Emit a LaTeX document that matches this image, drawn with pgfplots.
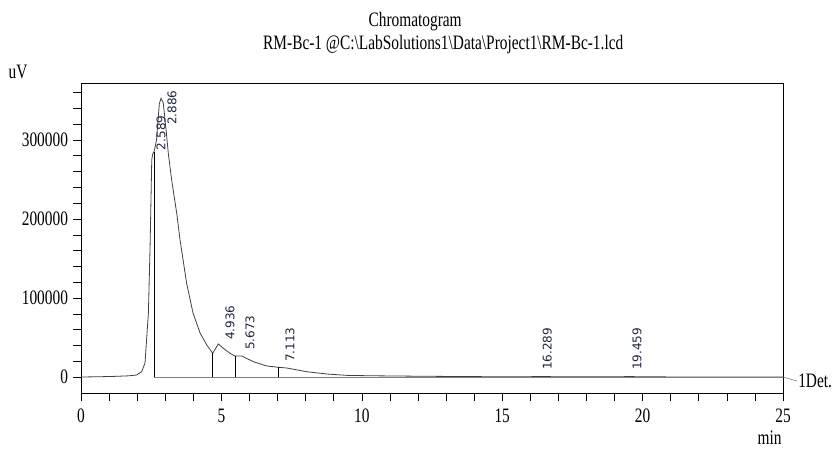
\documentclass[border=0pt]{standalone}
\usepackage{pgfplots}
\pgfplotsset{compat=1.18}
\usepackage{fontspec}
\setmainfont{Liberation Serif}[FakeStretch=0.75]
\newfontfamily\peakfont{DejaVu Sans}
\definecolor{peaklbl}{rgb}{0.12,0.14,0.25}
\definecolor{trace}{rgb}{0.25,0.25,0.25}

\begin{document}
\fontsize{20.5bp}{24bp}\selectfont
\begin{tikzpicture}
\begin{axis}[
	name=ax,
	scale only axis,
	width=702bp, height=310bp,
	xmin=0, xmax=25,
	ymin=-20250, ymax=372150,
	axis line style={line width=0.8bp},
	tick pos=left,
	tick align=outside,
	xtick={0,5,...,25},
	minor xtick={1,2,3,4,6,7,8,9,11,12,13,14,16,17,18,19,21,22,23,24},
	ytick={0,100000,200000,300000},
	minor ytick={20000,40000,60000,80000,120000,140000,160000,180000,220000,240000,260000,280000,320000,340000,360000},
	major tick length=8bp, minor tick length=8bp,
	tick style={black, line width=0.6bp},
	scaled y ticks=false,
	/pgf/number format/assume math mode=true,
	/pgf/number format/set thousands separator={},
	yticklabel style={/pgf/number format/fixed, xshift=2bp},
	xticklabel style={yshift=-1bp},
	clip=false,
]
% chromatogram trace
\addplot[trace, line width=0.8bp] coordinates {
(0,0) (0.6,300) (1.2,800) (1.7,1500) (1.98,2500) (2.16,6700) (2.28,17700)
(2.40,81000) (2.46,165000) (2.52,275000) (2.56,283000) (2.60,285000)
(2.69,300000) (2.79,346000) (2.85,352800) (2.93,347000) (3.03,312700)
(3.11,283000) (3.23,249000) (3.41,207000) (3.53,173000) (3.76,119000)
(3.99,81000) (4.24,55700) (4.48,40500) (4.69,30000) (4.89,41800)
(5.07,36300) (5.31,30000) (5.48,26600) (5.72,26600) (6.14,19400)
(6.61,14000) (7.03,12300) (7.33,11400) (8.04,6700) (8.75,3800)
(9.5,2000) (10.5,1500) (12,1000) (13.5,600) (15,300) (16,400)
(16.3,700) (16.8,400) (18,200) (19.2,300) (19.5,600) (19.9,300)
(21,100) (25,0)
};
% peak drop lines and baseline
\addplot[black, line width=0.6bp] coordinates {(2.60,0) (2.60,285000)};
\addplot[black, line width=0.6bp] coordinates {(4.69,0) (4.69,30000)};
\addplot[black, line width=0.6bp] coordinates {(5.48,0) (5.48,26600)};
\addplot[black, line width=0.6bp] coordinates {(7.03,0) (7.03,12300)};
\addplot[gray, line width=0.6bp] coordinates {(2.60,0) (25,0)};
% peak labels
\begin{scope}[every node/.style={rotate=90, anchor=west, inner sep=0pt,
	font=\peakfont\fontsize{12bp}{14bp}\selectfont, text=peaklbl}]
\node at (axis cs:2.85,287000) {2.589};
\node at (axis cs:3.24,319000) {2.886};
\node at (axis cs:5.31,46800) {4.936};
\node at (axis cs:6.02,34200) {5.673};
\node at (axis cs:7.44,19000) {7.113};
\node at (axis cs:16.6,8900) {16.289};
\node at (axis cs:19.8,8900) {19.459};
\end{scope}
% detector tag
\draw[gray, line width=0.6bp] (axis cs:25,0) -- ++(14bp,-4bp)
	node[anchor=west, inner sep=1bp, text=black] {1Det.};
\node at (axis description cs:0.476,1.197) {Chromatogram};
\node at (axis description cs:0.516,1.123) {RM-Bc-1 @C:\textbackslash LabSolutions1\textbackslash Data\textbackslash Project1\textbackslash RM-Bc-1.lcd};
\node at (axis description cs:-0.0897,1.035) {uV};
\node at (axis description cs:0.981,-0.145) {min};
\coordinate (bl) at (rel axis cs:0,0);
\end{axis}
\pgfresetboundingbox
\path ([shift={(-81bp,-56bp)}]bl) rectangle ++(832bp,449bp);
\end{tikzpicture}
\end{document}
